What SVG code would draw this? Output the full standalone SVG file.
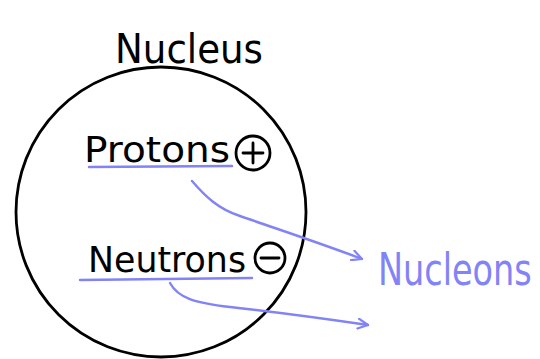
<svg xmlns="http://www.w3.org/2000/svg" width="540" height="359" viewBox="0 0 540 359">
  <defs>
    <style>
      .ink { fill: none; stroke: #000; stroke-width: 2.8; stroke-linecap: round; }
      .blue { fill: none; stroke: #8183f7; stroke-width: 2.4; stroke-linecap: round; stroke-linejoin: round; }
      .lbl { font-family: "DejaVu Sans", "Liberation Sans", sans-serif; fill: #000; }
      .lbl-blue { font-family: "DejaVu Sans", "Liberation Sans", sans-serif; fill: #8183f7; }
    </style>
    <marker id="open-head" viewBox="0 0 12 12" refX="11" refY="6" markerWidth="12" markerHeight="12" markerUnits="userSpaceOnUse" orient="auto">
      <path d="M1 1 L11 6 L1 11" fill="none" stroke="#8183f7" stroke-width="2.2" stroke-linecap="round" stroke-linejoin="round"/>
    </marker>
  </defs>
  <rect width="540" height="359" fill="#fff"/>

  <!-- nucleus boundary and its title -->
  <g id="nucleus">
    <circle class="ink" cx="161" cy="212" r="145"/>
    <text class="lbl" x="115" y="63" font-size="40" textLength="148" lengthAdjust="spacingAndGlyphs">Nucleus</text>
  </g>

  <!-- protons, positive charge -->
  <g id="protons">
    <text class="lbl" x="84" y="162" font-size="36" textLength="146" lengthAdjust="spacingAndGlyphs">Protons</text>
    <line class="blue" x1="89" y1="167" x2="232" y2="166"/>
    <circle class="ink" cx="253" cy="153" r="17"/>
    <path class="ink" d="M243 153 H263 M253 143 V163"/>
  </g>

  <!-- neutrons, neutral charge -->
  <g id="neutrons">
    <text class="lbl" x="88" y="272" font-size="36" textLength="158" lengthAdjust="spacingAndGlyphs">Neutrons</text>
    <line class="blue" x1="80" y1="280" x2="252" y2="278"/>
    <circle class="ink" cx="270" cy="258" r="15"/>
    <path class="ink" d="M261 258 H279"/>
  </g>

  <!-- collective name, stretched upright to its full height -->
  <g id="nucleons">
    <text class="lbl-blue" transform="translate(378 285) scale(1 1.3)" x="0" y="0" font-size="33.5">Nucleons</text>
  </g>

  <!-- arrows from each particle to the collective name -->
  <g id="connectors">
    <path class="blue" d="M192 181 C205 196 218 209 240 216 C280 230 320 243 362 259" marker-end="url(#open-head)"/>
    <path class="blue" d="M170 283 C178 298 195 303 230 307 C275 312 320 318 368 325" marker-end="url(#open-head)"/>
  </g>
</svg>
